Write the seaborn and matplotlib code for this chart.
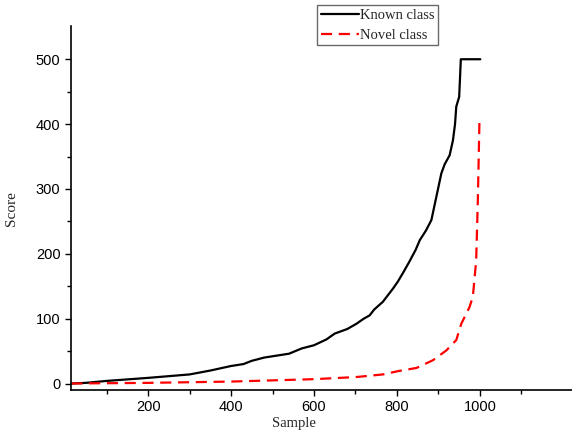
import matplotlib
matplotlib.use("Agg")
import matplotlib.pyplot as plt
import seaborn as sns
import pandas as pd
from matplotlib.ticker import FixedLocator

known_x = [15, 50, 100, 200, 300, 350, 400, 430, 450, 480, 500, 540, 570, 600, 630, 650,
           680, 702, 720, 734, 745, 766, 790, 802, 815, 830, 845, 855, 870, 883, 895,
           907, 915, 927, 935, 940, 943, 950, 954, 1001]
known_y = [0, 1, 4, 8.7, 14, 20, 27, 30, 35, 40, 42, 46, 54, 59, 68, 77,
           84, 92, 100, 105, 114, 126, 146, 157, 171, 188, 206, 221, 236, 252, 288,
           324, 338, 352, 375, 400, 427, 442, 500, 500]

novel_x = [15, 200, 400, 600, 702, 766, 802, 847, 887, 919, 943, 955, 975, 983, 991, 995, 999]
novel_y = [0, 1, 3, 6.7, 10, 14, 19, 24, 36, 51, 67, 92, 118, 134, 190, 283, 408]

x_ticks = [200, 400, 600, 800, 1000]
y_ticks = [0, 100, 200, 300, 400, 500]

sns.set_theme(style="ticks")
plt.rcParams['font.family'] = ['Liberation Sans', 'DejaVu Sans']

fig = plt.figure(figsize=(5.72, 4.36), dpi=100)
ax = fig.add_axes([0.124, 0.1055, 0.876, 0.8345])

sns.lineplot(x=known_x, y=known_y, ax=ax, color="black", linewidth=1.6,
             label="Known class", sort=False)
sns.lineplot(x=novel_x, y=novel_y, ax=ax, color="#ff0000", linewidth=1.6,
             label="Novel class", sort=False)
ax.lines[1].set_dashes([5, 3])

ax.set_xlim(14, 1222)
ax.set_ylim(-10, 551)
ax.xaxis.set_major_locator(FixedLocator(x_ticks))
ax.xaxis.set_minor_locator(FixedLocator([100, 300, 500, 700, 900, 1100]))
ax.yaxis.set_major_locator(FixedLocator(y_ticks))
ax.yaxis.set_minor_locator(FixedLocator([50, 150, 250, 350, 450]))

for s in ["top", "right"]:
    ax.spines[s].set_visible(False)
for s in ["left", "bottom"]:
    ax.spines[s].set_linewidth(1.2)
    ax.spines[s].set_color("black")

ax.tick_params(axis="both", which="major", direction="out", length=4, width=1,
               labelsize=10.5, colors="black")
ax.tick_params(axis="both", which="minor", direction="out", length=3, width=1, colors="black")

serif = ['Liberation Serif', 'DejaVu Serif']
ax.set_xlabel("Sample", fontsize=10.5, family=serif, labelpad=0)
ax.set_ylabel("Score", fontsize=11, family=serif)
ax.xaxis.set_label_coords(0.445, -0.075)
ax.yaxis.set_label_coords(-0.105, 0.5)

leg = ax.legend(loc="upper left", bbox_to_anchor=(0.491, 1.058), frameon=True,
                fancybox=False, prop={'family': serif, 'size': 10.5},
                handlelength=2.6, handletextpad=0.1, borderpad=0.25,
                labelspacing=0.45, borderaxespad=0)
leg.get_frame().set_edgecolor("#444444")
leg.get_frame().set_linewidth(1.0)

fig.savefig("out.png", dpi=100)
